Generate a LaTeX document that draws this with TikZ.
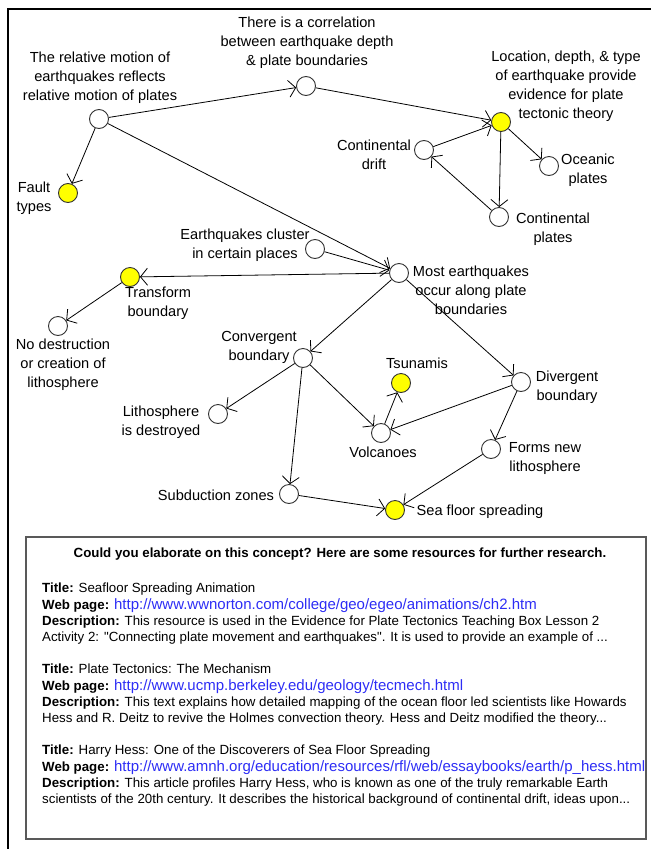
\documentclass[tikz,border=0pt]{standalone}
\usepackage{fontspec}
\setmainfont{Liberation Sans}
\usetikzlibrary{arrows.meta}
\definecolor{linkblue}{RGB}{45,45,245}
\definecolor{keyyellow}{RGB}{255,255,0}
\tikzset{
	concept/.style={circle,draw=black!80,line width=0.9pt,fill=white,minimum size=19pt,inner sep=0pt},
	keyconcept/.style={concept,fill=keyyellow},
	caption/.style={align=center,inner sep=0pt,font=\fontsize{14.6}{19}\selectfont},
	link/.style={line width=0.8pt,-{Straight Barb[length=7pt,width=17pt]}},
	resource/.style={align=left,inner sep=0pt,anchor=north west,font=\fontsize{13.3}{16.3}\selectfont}
}
\newcommand{\weblink}[1]{{\fontsize{15}{16.3}\selectfont\color{linkblue}#1}}

\begin{document}
\begin{tikzpicture}[x=1pt,y=-1pt]
		\useasboundingbox (0,0) rectangle (651,849);
		%%%%% FRAME %%%%%
		\draw[line width=1.3pt] (8,849) |- (651,9);
		
		%%%%% CONCEPTS %%%%%
		\node[concept] (relmotion) at (99,119) {};
		\node[concept] (corr) at (306,86) {};
		\node[keyconcept] (location) at (501,122) {};
		\node[keyconcept] (fault) at (68,193) {};
		\node[concept] (contdrift) at (424,150) {};
		\node[concept] (oceanic) at (549,166) {};
		\node[concept] (contplates) at (499,217) {};
		\node[concept] (cluster) at (315,249) {};
		\node[concept] (most) at (399,273) {};
		\node[keyconcept] (transform) at (130,277) {};
		\node[concept] (nodestr) at (58,326) {};
		\node[concept] (convergent) at (303,358) {};
		\node[keyconcept] (tsunamis) at (401,383) {};
		\node[concept] (divergent) at (521,382) {};
		\node[concept] (lithodestr) at (218,414) {};
		\node[concept] (volcanoes) at (381,433) {};
		\node[concept] (formsnew) at (491,449) {};
		\node[concept] (subduction) at (289,494) {};
		\node[keyconcept] (seafloor) at (395,510) {};
		
		%%%%% CAPTIONS %%%%%
		\node[caption] (relmotiontxt) at (100,78) {The relative motion of\\earthquakes reflects\\relative motion of plates};
		\node[caption] (corrtxt) at (307,43) {There is a correlation\\between earthquake depth\\\& plate boundaries};
		\node[caption] (locationtxt) at (566,86) {Location, depth, \& type\\of earthquake provide\\evidence for plate\\tectonic theory};
		\node[caption] (faulttxt) at (34,198) {Fault\\types};
		\node[caption] (contdrifttxt) at (374,155) {Continental\\drift};
		\node[caption] (oceanictxt) at (588,170) {Oceanic\\plates};
		\node[caption] (contplatestxt) at (553,229) {Continental\\plates};
		\node[caption] (clustertxt) at (245,245) {Earthquakes cluster\\in certain places};
		\node[caption] (mosttxt) at (471,290) {Most earthquakes\\occur along plate\\boundaries};
		\node[caption] (transformtxt) at (158,303) {Transform\\boundary};
		\node[caption] (nodestrtxt) at (63,365) {No destruction\\or creation of\\lithosphere};
		\node[caption] (convergenttxt) at (259,347) {Convergent\\boundary};
		\node[caption] (tsunamistxt) at (417,363) {Tsunamis};
		\node[caption] (divergenttxt) at (567,387) {Divergent\\boundary};
		\node[caption] (lithodestrtxt) at (161,422) {Lithosphere\\is destroyed};
		\node[caption] (volcanoestxt) at (383,452) {Volcanoes};
		\node[caption] (formsnewtxt) at (545,458) {Forms new\\lithosphere};
		\node[caption] (subductiontxt) at (216,495) {Subduction zones};
		\node[caption] (seafloortxt) at (480,512) {Sea floor spreading};
		
		%%%%% LINKS %%%%%
		\draw[link] (relmotion) -- (corr);
		\draw[link] (relmotion) -- (fault);
		\draw[link] (relmotion) -- (most);
		\draw[link] (corr) -- (location);
		\draw[link] (contdrift) -- (location);
		\draw[link] (location) -- (oceanic);
		\draw[link] (location) -- (contplates);
		\draw[link] (contplates) -- (contdrift);
		\draw[link] (cluster) -- (most);
		\draw[link] (most) -- (transform);
		\draw[link] (transform) -- (nodestr);
		\draw[link] (most) -- (convergent);
		\draw[link] (most) -- (divergent);
		\draw[link] (convergent) -- (lithodestr);
		\draw[link] (convergent) -- (subduction);
		\draw[link] (convergent) -- (volcanoes);
		\draw[link] (volcanoes) -- (tsunamis);
		\draw[link] (divergent) -- (volcanoes);
		\draw[link] (divergent) -- (formsnew);
		\draw[link] (formsnew) -- (seafloor);
		\draw[link] (subduction) -- (seafloor);
		
		%%%%% RESOURCES %%%%%
		\draw[line width=1.3pt,draw=black!65] (26,537) rectangle (646,839);
		\node[font=\fontsize{13.3}{16}\selectfont\bfseries,inner sep=0pt] (asktxt) at (340,554) {Could you elaborate on this concept? Here are some resources for further research.};
		\node[resource] (res1) at (42,583) {\textbf{Title:} Seafloor Spreading Animation\\
			\textbf{Web page:} \weblink{http://www.wwnorton.com/college/geo/egeo/animations/ch2.htm}\\
			\textbf{Description:} This resource is used in the Evidence for Plate Tectonics Teaching Box Lesson 2\\
			Activity 2: \textquotedbl Connecting plate movement and earthquakes\textquotedbl. It is used to provide an example of ...};
		\node[resource] (res2) at (42,664) {\textbf{Title:} Plate Tectonics: The Mechanism\\
			\textbf{Web page:} \weblink{http://www.ucmp.berkeley.edu/geology/tecmech.html}\\
			\textbf{Description:} This text explains how detailed mapping of the ocean floor led scientists like Howards\\
			Hess and R. Deitz to revive the Holmes convection theory. Hess and Deitz modified the theory...};
		\node[resource] (res3) at (42,745) {\textbf{Title:} Harry Hess: One of the Discoverers of Sea Floor Spreading\\
			\textbf{Web page:} \weblink{http://www.amnh.org/education/resources/rfl/web/essaybooks/earth/p\_hess.html}\\
			\textbf{Description:} This article profiles Harry Hess, who is known as one of the truly remarkable Earth\\
			scientists of the 20th century. It describes the historical background of continental drift, ideas upon...};
	\end{tikzpicture}
\end{document}
